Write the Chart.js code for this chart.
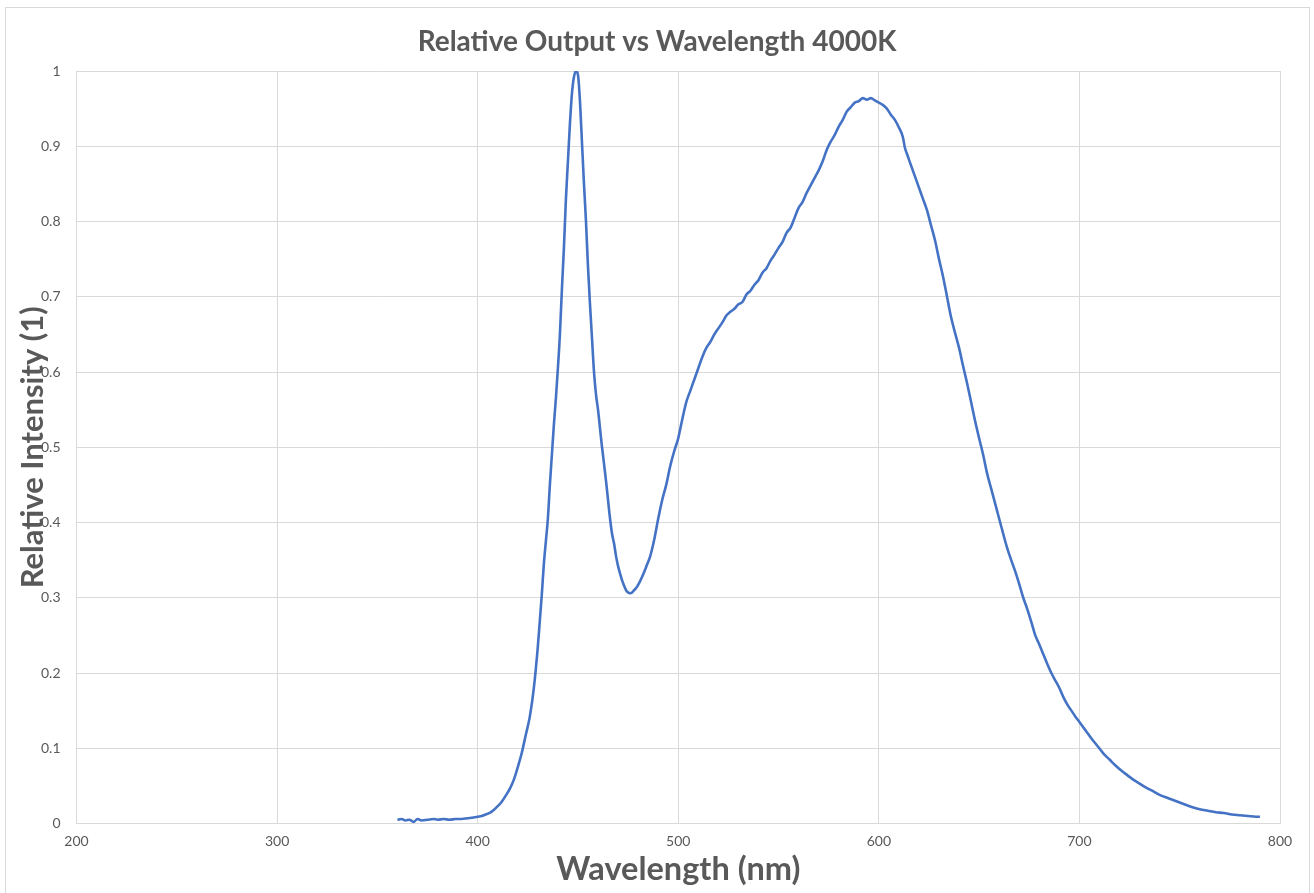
<!DOCTYPE html>
<html>
<head>
<meta charset="utf-8">
<title>Relative Output vs Wavelength 4000K</title>
<script src="https://cdn.jsdelivr.net/npm/chart.js@4.4.1/dist/chart.umd.min.js"></script>
<style>
    html, body { margin: 0; padding: 0; background: #ffffff; overflow: hidden; }
    .frame {
        position: absolute;
        left: 5px;
        top: 7px;
        width: 1303px;
        height: 900px;
        border: 1px solid #d9d9d9;
    }
    #spectrumChart { position: absolute; left: 0; top: 0; }
</style>
</head>
<body>
<div class="frame"></div>
<canvas id="spectrumChart" width="1314" height="893"></canvas>
<script>
// Spectrum
const wavelengths = [
    360, 362, 364, 366, 368, 370, 372, 375, 378, 380, 383, 386, 389, 392, 395, 398,
    400, 402, 404, 406, 408, 410, 412, 414, 416, 418, 420, 422, 424, 426, 428, 430,
    431, 432, 433, 434, 435, 436, 437, 438, 439, 440, 441, 442, 443, 444, 445, 446,
    447, 448, 449, 450, 451, 452, 453, 454, 455, 456, 457, 458, 459, 460, 461, 462,
    463, 464, 465, 466, 467, 468, 469, 470, 471, 472, 473, 474, 475, 476, 477, 478,
    479, 480, 482, 484, 486, 488, 490, 492, 494, 496, 498, 500, 502, 504, 506, 508,
    510, 512, 514, 516, 518, 520, 522, 524, 526, 528, 530, 532, 534, 536, 538, 540,
    542, 544, 546, 548, 550, 552, 554, 556, 558, 560, 562, 564, 566, 568, 570, 572,
    574, 576, 578, 580, 582, 584, 586, 588, 590, 592, 594, 596, 598, 600, 602, 604,
    606, 608, 610, 612, 613, 614, 616, 618, 620, 622, 624, 626, 628, 630, 632, 634,
    636, 638, 640, 642, 644, 646, 648, 650, 652, 654, 656, 658, 660, 662, 664, 666,
    668, 670, 672, 674, 676, 678, 680, 682, 684, 686, 688, 690, 692, 694, 696, 698,
    700, 703, 706, 709, 712, 715, 718, 721, 724, 727, 730, 733, 736, 740, 744, 748,
    752, 756, 760, 764, 768, 772, 776, 780, 784, 788, 790
];
const intensity = [
    0.005, 0.006, 0.004, 0.005, 0.002, 0.006, 0.004, 0.005, 0.006, 0.005, 0.006, 0.005, 0.006, 0.006, 0.007, 0.008,
    0.009, 0.010, 0.012, 0.014, 0.018, 0.023, 0.029, 0.037, 0.046, 0.058, 0.075, 0.094, 0.118, 0.142, 0.180, 0.235,
    0.270, 0.305, 0.345, 0.375, 0.405, 0.450, 0.490, 0.530, 0.565, 0.605, 0.650, 0.710, 0.765, 0.830, 0.880, 0.930,
    0.970, 0.992, 1.000, 0.995, 0.960, 0.905, 0.850, 0.800, 0.740, 0.690, 0.645, 0.600, 0.570, 0.550, 0.525, 0.500,
    0.478, 0.455, 0.430, 0.405, 0.385, 0.372, 0.355, 0.342, 0.332, 0.323, 0.316, 0.310, 0.307, 0.306, 0.307, 0.310,
    0.313, 0.317, 0.328, 0.341, 0.355, 0.377, 0.405, 0.430, 0.450, 0.475, 0.495, 0.512, 0.537, 0.560, 0.575, 0.590,
    0.605, 0.620, 0.632, 0.640, 0.650, 0.658, 0.666, 0.675, 0.680, 0.684, 0.690, 0.693, 0.703, 0.708, 0.716, 0.722,
    0.732, 0.738, 0.748, 0.756, 0.765, 0.773, 0.785, 0.792, 0.805, 0.818, 0.826, 0.838, 0.848, 0.858, 0.868, 0.880,
    0.895, 0.906, 0.915, 0.926, 0.935, 0.946, 0.952, 0.958, 0.960, 0.964, 0.962, 0.964, 0.961, 0.958, 0.955, 0.950,
    0.942, 0.935, 0.925, 0.912, 0.898, 0.890, 0.875, 0.860, 0.845, 0.830, 0.815, 0.795, 0.775, 0.750, 0.727, 0.700,
    0.673, 0.652, 0.632, 0.608, 0.585, 0.560, 0.535, 0.512, 0.490, 0.465, 0.445, 0.425, 0.405, 0.385, 0.366, 0.350,
    0.335, 0.318, 0.300, 0.285, 0.268, 0.250, 0.238, 0.225, 0.212, 0.200, 0.190, 0.180, 0.168, 0.158, 0.150, 0.142,
    0.135, 0.124, 0.113, 0.103, 0.093, 0.085, 0.077, 0.070, 0.064, 0.058, 0.053, 0.048, 0.044, 0.038, 0.034, 0.030,
    0.026, 0.022, 0.019, 0.017, 0.015, 0.014, 0.012, 0.011, 0.010, 0.009, 0.009
];

const xTicks = [200, 300, 400, 500, 600, 700, 800];
const yTicks = [0, 0.1, 0.2, 0.3, 0.4, 0.5, 0.6, 0.7, 0.8, 0.9, 1];

const textColor = '#595959';
const gridColor = '#d9d9d9';
const fontFamily = 'Lato, "Open Sans", sans-serif';

const points = wavelengths.map((w, i) => ({ x: w, y: intensity[i] }));

new Chart(document.getElementById('spectrumChart'), {
    type: 'line',
    data: {
        datasets: [{
            label: 'Relative Intensity',
            data: points,
            borderColor: '#4472C4',
            borderWidth: 2.6,
            pointRadius: 0,
            fill: false,
            cubicInterpolationMode: 'monotone'
        }]
    },
    options: {
        responsive: false,
        animation: false,
        // equal side padding keeps the chart title centred on the page
        layout: {
            padding: { left: 34, right: 34, top: 10, bottom: 0 }
        },
        plugins: {
            legend: { display: false },
            tooltip: { enabled: false },
            title: {
                display: true,
                text: 'Relative Output vs Wavelength 4000K',
                color: textColor,
                font: { family: fontFamily, size: 28, weight: 'bold' },
                padding: { top: 15, bottom: 12.4 }
            }
        },
        scales: {
            x: {
                type: 'linear',
                min: xTicks[0],
                max: xTicks[xTicks.length - 1],
                afterBuildTicks: scale => { scale.ticks = xTicks.map(v => ({ value: v })); },
                afterFit: scale => { scale.height = 69.5; },
                grid: { color: gridColor, drawTicks: false },
                border: { color: gridColor },
                ticks: {
                    color: textColor,
                    font: { family: fontFamily, size: 14 },
                    padding: 10,
                    maxRotation: 0
                },
                title: {
                    display: true,
                    text: 'Wavelength (nm)',
                    color: textColor,
                    font: { family: fontFamily, size: 32.5, weight: 'bold' },
                    padding: { top: 0, bottom: 3.5 }
                }
            },
            y: {
                min: yTicks[0],
                max: yTicks[yTicks.length - 1],
                afterBuildTicks: scale => { scale.ticks = yTicks.map(v => ({ value: v })); },
                afterFit: scale => { scale.width = 42.5; },
                grid: { color: gridColor, drawTicks: false },
                border: { color: gridColor },
                ticks: {
                    color: textColor,
                    font: { family: fontFamily, size: 14 },
                    padding: 16,
                    callback: value => String(Math.round(value * 10) / 10)
                },
                title: {
                    display: true,
                    text: 'Relative Intensity (1)',
                    color: textColor,
                    font: { family: fontFamily, size: 31, weight: 'bold' },
                    // pulls the title back into the left padding, over the tick labels like the original
                    padding: { top: -20, bottom: 0 }
                }
            }
        }
    }
});
</script>
</body>
</html>
